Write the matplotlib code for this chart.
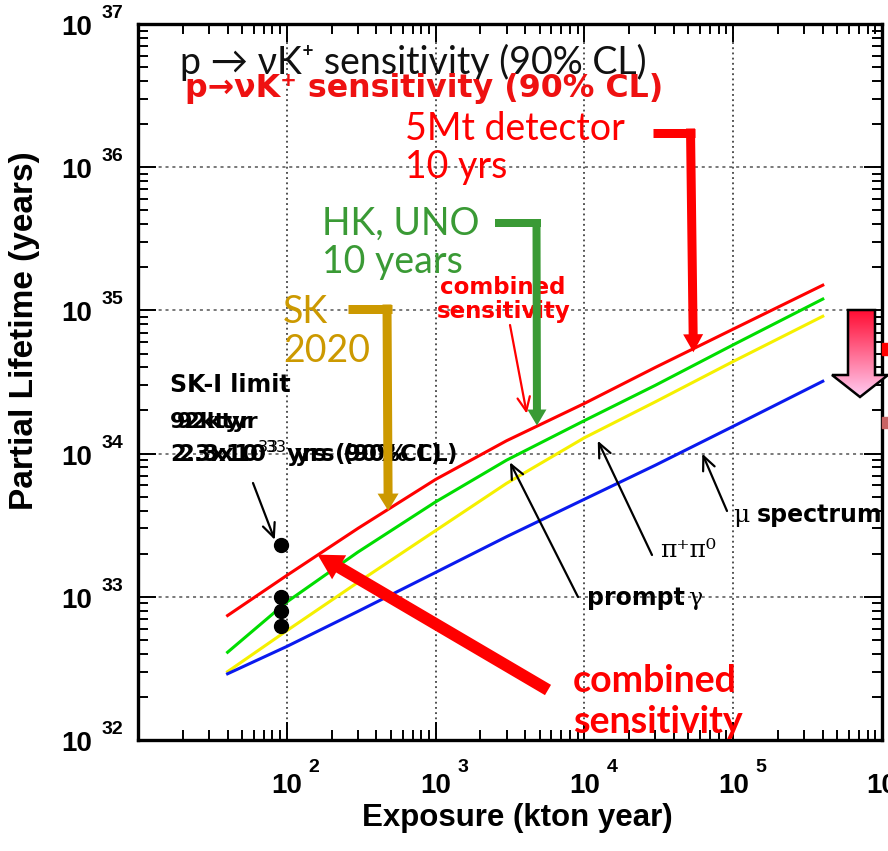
import numpy as np
import matplotlib
matplotlib.use('Agg')
import matplotlib.pyplot as plt
import matplotlib.transforms as mtrans
from matplotlib.patches import Polygon, Rectangle

# ---------------- data ----------------
exposure = [40, 100, 300, 1000, 3000, 10000, 30000, 100000, 400000]
combined = [7.4e32, 1.41e33, 3.0e33, 6.6e33, 1.23e34, 2.24e34, 4.0e34, 7.4e34, 1.5e35]
prompt_gamma = [4.1e32, 9.2e32, 2.05e33, 4.6e33, 9.0e33, 1.7e34, 3.0e34, 5.75e34, 1.2e35]
pipi = [3.0e32, 5.8e32, 1.26e33, 2.9e33, 6.2e33, 1.29e34, 2.3e34, 4.4e34, 9.1e34]
mu_spectrum = [2.9e32, 4.5e32, 7.9e32, 1.48e33, 2.63e33, 4.8e33, 8.3e33, 1.55e34, 3.2e34]
ski_exposure = [92, 92, 92, 92]
ski_limits = [2.3e33, 1.0e33, 7.9e32, 6.3e32]
xtick_exp = [2, 3, 4, 5, 6]
ytick_exp = [32, 33, 34, 35, 36, 37]

# annotation targets (data coordinates)
tgt_5mt = (5.4e4, 5.1e34)
tgt_hk = (4.8e3, 1.57e34)
tgt_sk = (480, 4.0e33)
tgt_comb_small = (4.1e3, 1.9e34)
tgt_comb_big = (161, 1.97e33)
tgt_ski = (83, 2.5e33)
tgt_prompt = (3160, 8.7e33)
tgt_pipi = (1.23e4, 1.23e34)
tgt_mu = (6.2e4, 1.0e34)

RED = '#ff0000'
GREEN_L = '#00dd00'
YELLOW = '#f5f000'
BLUE = '#0a1aee'
GREEN_A = '#3a9a35'
GOLD = '#cc9900'

W, H = 888, 851
fig = plt.figure(figsize=(W / 100, H / 100), dpi=100)
ax = fig.add_axes([138 / W, 1 - 740 / H, 744 / W, 716 / H])
ax.set_xscale('log')
ax.set_yscale('log')
ax.set_xlim(10, 1e6)
ax.set_ylim(1e32, 1e37)

ax.grid(True, which='major', axis='x', color='#222222', linestyle=(0, (1.2, 2.2)), lw=1.1)
ax.grid(True, which='major', axis='y', color='#555555', linestyle=(0, (2, 2.5)), lw=1.1)
ax.tick_params(which='both', direction='in', top=True, right=True,
               labelbottom=False, labelleft=False, width=1.4, color='black')
ax.tick_params(which='major', length=13)
ax.tick_params(which='minor', length=7)
for s in ax.spines.values():
    s.set_linewidth(2.4)

ax.plot(exposure, combined, color=RED, lw=2.2, zorder=3)
ax.plot(exposure, prompt_gamma, color=GREEN_L, lw=2.2, zorder=3)
ax.plot(exposure, pipi, color=YELLOW, lw=2.2, zorder=3)
ax.plot(exposure, mu_spectrum, color=BLUE, lw=2.2, zorder=3)
ax.plot(ski_exposure, ski_limits, 'o', color='black', ms=10, zorder=4)

# tick labels (custom placement "10" + raised exponent)
def off(dx, dy):
    return mtrans.ScaledTranslation(dx / 100, dy / 100, fig.dpi_scale_trans)

TF = 'Liberation Sans'
for e in xtick_exp:
    ax.text(10.0 ** e, 0, '10', transform=ax.get_xaxis_transform() + off(0, -53),
            ha='center', va='baseline', family=TF, weight='bold', size=20, clip_on=False)
    ax.text(10.0 ** e, 0, str(e), transform=ax.get_xaxis_transform() + off(22, -32),
            ha='left', va='baseline', family=TF, weight='bold', size=14, clip_on=False)
for e in ytick_exp:
    ax.text(0, 10.0 ** e, '10', transform=ax.get_yaxis_transform() + off(-46, -11),
            ha='right', va='baseline', family=TF, weight='bold', size=20, clip_on=False)
    ax.text(0, 10.0 ** e, str(e), transform=ax.get_yaxis_transform() + off(-36, 6),
            ha='left', va='baseline', family=TF, weight='bold', size=14, clip_on=False)

# axis labels
fig.text(517 / W, 1 - 818 / H, 'Exposure (kton year)', ha='center', va='center',
         family=TF, weight='bold', size=22.5)
fig.text(25 / W, 1 - 331 / H, 'Partial Lifetime (years)', ha='center', va='center',
         rotation=90, family=TF, weight='bold', size=24)

# ---------------- overlay in pixel coordinates ----------------
ov = fig.add_axes([0, 0, 1, 1], zorder=10)
ov.set_xlim(0, W)
ov.set_ylim(H, 0)
ov.axis('off')
ov.patch.set_alpha(0)

CAL = ['Lato', 'DejaVu Sans']
HEL = 'DejaVu Sans'

ov.text(180, 74, 'p → νK⁺ sensitivity (90% CL)', family=CAL, size=27, color='#111111', va='baseline')
ov.text(185, 97, 'p→νK⁺ sensitivity (90% CL)', family=HEL, weight='bold', size=22.8,
        color='#ee1111', va='baseline')

ov.text(405, 140, '5Mt detector', family=CAL, size=27, color=RED, va='baseline')
ov.text(405, 178, '10 yrs', family=CAL, size=27, color=RED, va='baseline')
ov.text(322, 235, 'HK, UNO', family=CAL, size=27, color=GREEN_A, va='baseline')
ov.text(322, 273, '10 years', family=CAL, size=27, color=GREEN_A, va='baseline')
ov.text(283, 323, 'SK', family=CAL, size=27, color=GOLD, va='baseline')
ov.text(283, 362, '2020', family=CAL, size=27, color=GOLD, va='baseline')

ov.text(440, 294, 'combined', family=HEL, weight='bold', size=16.5, color=RED, va='baseline')
ov.text(437, 318, 'sensitivity', family=HEL, weight='bold', size=16.5, color=RED, va='baseline')

ov.text(573, 692, 'combined', family=CAL, weight='bold', size=27, color=RED, va='baseline')
ov.text(573, 733, 'sensitivity', family=CAL, weight='bold', size=27, color=RED, va='baseline')

ov.text(170, 392, 'SK-I limit', family=HEL, weight='bold', size=17, color='black', va='baseline')
ov.text(170, 428, '92ktyr', family=HEL, weight='bold', size=16, color='black', va='baseline')
ov.text(177, 428, '92ktyr', family=HEL, weight='bold', size=16, color='black', va='baseline')
ov.text(170, 462, '2.3x10$^{33}$ yrs (90%CL)', family=HEL, weight='bold', size=16.5,
        color='black', va='baseline')
ov.text(178, 462, '2.3x10$^{33}$ yrs (90% CL)', family=HEL, weight='bold', size=16.5,
        color='black', va='baseline')

ov.text(587, 605, 'prompt', family=HEL, weight='bold', size=17, color='black', va='baseline')
ov.text(688, 605, 'γ', family='DejaVu Serif', size=17, color='black', va='baseline')
ov.text(660, 557, 'π⁺π⁰', family='DejaVu Serif', size=18, color='black', va='baseline')
ov.text(733, 522, 'μ', family='DejaVu Serif', size=18, color='black', va='baseline')
ov.text(757, 522, 'spectrum', family=HEL, weight='bold', size=17, color='black', va='baseline')

# bracket arrows
def bracket(x0, x1, y, xv, tgt, color, thick_px, hw_px, hl_px):
    pt = 0.72
    ov.plot([x0, x1], [y, y], color=color, lw=thick_px * pt, solid_capstyle='butt', zorder=5)
    ov.annotate('', xy=tgt, xycoords=ax.transData, xytext=(xv, y - thick_px / 2),
                textcoords='data',
                arrowprops=dict(arrowstyle='simple,head_length=%g,head_width=%g,tail_width=%g'
                                % (hl_px * pt, hw_px * pt, thick_px * pt),
                                mutation_scale=1, color=color, lw=0, shrinkA=0, shrinkB=0),
                zorder=5)

bracket(653, 695, 133, 690.5, tgt_5mt, RED, 9, 20, 18)
bracket(495, 541, 223, 536.5, tgt_hk, GREEN_A, 8, 19, 16)
bracket(348, 392, 309, 387, tgt_sk, GOLD, 9, 21, 17)

# big red arrow
ov.annotate('', xy=tgt_comb_big, xycoords=ax.transData, xytext=(548, 690), textcoords='data',
            arrowprops=dict(arrowstyle='simple,head_length=18,head_width=20,tail_width=8.6',
                            mutation_scale=1, color=RED, lw=0, shrinkA=0, shrinkB=0))

# thin arrows
def thin(tgt, tail, color='black'):
    ov.annotate('', xy=tgt, xycoords=ax.transData, xytext=tail, textcoords='data',
                arrowprops=dict(arrowstyle='->,head_length=10,head_width=4.5',
                                mutation_scale=1, color=color, lw=1.6, shrinkA=0, shrinkB=0))

thin(tgt_comb_small, (510, 325), RED)
thin(tgt_ski, (253, 483))
thin(tgt_prompt, (578, 597))
thin(tgt_pipi, (652, 555))
thin(tgt_mu, (727, 511))

# gradient block arrow on the right edge
verts = [(848, 310), (875, 310), (875, 375), (888, 375), (860, 397), (832, 375), (848, 375)]
poly = Polygon(verts, closed=True, facecolor='none', edgecolor='black', lw=1.8, zorder=7)
ov.add_patch(poly)
n = 100
t = np.linspace(0, 1, n)[:, None, None]
c_top = np.array([1.0, 0.05, 0.2])
c_bot = np.array([1.0, 0.80, 0.95])
grad = c_top * (1 - t) + c_bot * t
im = ov.imshow(grad, extent=(830, 890, 397, 310), origin='upper', aspect='auto', zorder=6)
clip = Polygon(verts, closed=True, transform=ov.transData)
im.set_clip_path(clip)
ov.set_xlim(0, W)
ov.set_ylim(H, 0)

ov.add_patch(Rectangle((882, 343), 6, 12, color='#ff0000', zorder=6))
ov.add_patch(Rectangle((882, 417), 6, 11, color='#c86464', zorder=6))

fig.savefig('out.png', dpi=100)
